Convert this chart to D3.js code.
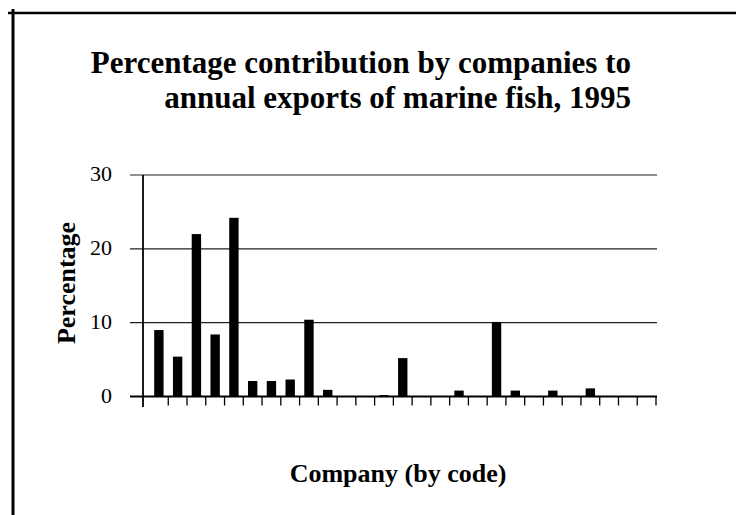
<!DOCTYPE html>
<html>
<head>
<meta charset="utf-8">
<script src="https://cdn.jsdelivr.net/npm/d3@7"></script>
<style>
  body { margin: 0; background: #fff; }
  text { font-family: "Liberation Serif", "Times New Roman", serif; fill: #000; }
</style>
</head>
<body>
<svg id="chart" width="736" height="515"></svg>
<script>
"use strict";

// company codes (not printed on the axis)
var companies = d3.range(1, 28).map(function(i) { return "C" + i; });
// percentage of annual exports
var shares = [9.0, 5.4, 22.0, 8.4, 24.2, 2.1, 2.1, 2.3, 10.4, 0.9,
              0, 0, 0.2, 5.2, 0, 0, 0.8, 0, 10.1, 0.8,
              0, 0.8, 0, 1.1, 0, 0, 0];
var yTicks = [0, 10, 20, 30];
var titleLines = ["Percentage contribution by companies to", "annual exports of marine fish, 1995"];

var data = companies.map(function(c, i) { return {code: c, value: shares[i]}; });

var svg = d3.select("#chart");

// frame lines of the scanned page
svg.append("line").attr("x1", 8).attr("x2", 736).attr("y1", 13).attr("y2", 13)
   .attr("stroke", "#000").attr("stroke-width", 2.5);
svg.append("line").attr("x1", 13).attr("x2", 13).attr("y1", 9).attr("y2", 515)
   .attr("stroke", "#000").attr("stroke-width", 3);

var x = d3.scaleBand()
          .domain(companies)
          .range([149.5, 656])
          .paddingInner(0.5)
          .paddingOuter(0.25);

var y = d3.scaleLinear()
          .domain([0, 30])
          .range([396.5, 175]);

// gridlines + y ticks
svg.append("g").selectAll("line")
   .data(yTicks)
   .enter()
   .append("line")
   .attr("x1", 130)
   .attr("x2", 657)
   .attr("y1", function(d) { return y(d); })
   .attr("y2", function(d) { return y(d); })
   .attr("stroke", function(d) { return d == 0 ? "#000" : "#222"; })
   .attr("stroke-width", function(d) { return d == 0 ? 1.8 : 1.2; });

svg.append("g").selectAll("text")
   .data(yTicks)
   .enter()
   .append("text")
   .attr("x", 112)
   .attr("y", function(d) { return y(d) + 6; })
   .attr("text-anchor", "end")
   .attr("font-size", "22px")
   .text(function(d) { return d; });

// x ticks at band boundaries
var step = x.step();
var bounds = d3.range(1, companies.length + 1).map(function(i) { return x.range()[0] + i * step; });
svg.append("g").selectAll("line")
   .data(bounds)
   .enter()
   .append("line")
   .attr("x1", function(d) { return d; })
   .attr("x2", function(d) { return d; })
   .attr("y1", y(0))
   .attr("y2", y(0) + 9)
   .attr("stroke", "#000")
   .attr("stroke-width", 1.3);

// y axis line
svg.append("line").attr("x1", 143).attr("x2", 143).attr("y1", y(30)).attr("y2", 407)
   .attr("stroke", "#000").attr("stroke-width", 1.8);

// bars
svg.append("g").selectAll("rect")
   .data(data.filter(function(d) { return d.value > 0; }))
   .enter()
   .append("rect")
   .attr("x", function(d) { return x(d.code); })
   .attr("width", x.bandwidth())
   .attr("y", function(d) { return y(d.value); })
   .attr("height", function(d) { return y(0) - y(d.value); })
   .attr("fill", "#000");

// title
svg.append("g").selectAll("text")
   .data(titleLines)
   .enter()
   .append("text")
   .attr("x", 631)
   .attr("y", function(d, i) { return 73 + i * 35; })
   .attr("text-anchor", "end")
   .attr("font-weight", "bold")
   .attr("font-size", "31px")
   .text(function(d) { return d; });

// axis labels
svg.append("text")
   .attr("transform", "translate(75,283) rotate(-90)")
   .attr("text-anchor", "middle")
   .attr("font-weight", "bold")
   .attr("font-size", "26px")
   .text("Percentage");

svg.append("text")
   .attr("x", 398)
   .attr("y", 482)
   .attr("text-anchor", "middle")
   .attr("font-weight", "bold")
   .attr("font-size", "26px")
   .text("Company (by code)");
</script>
</body>
</html>
